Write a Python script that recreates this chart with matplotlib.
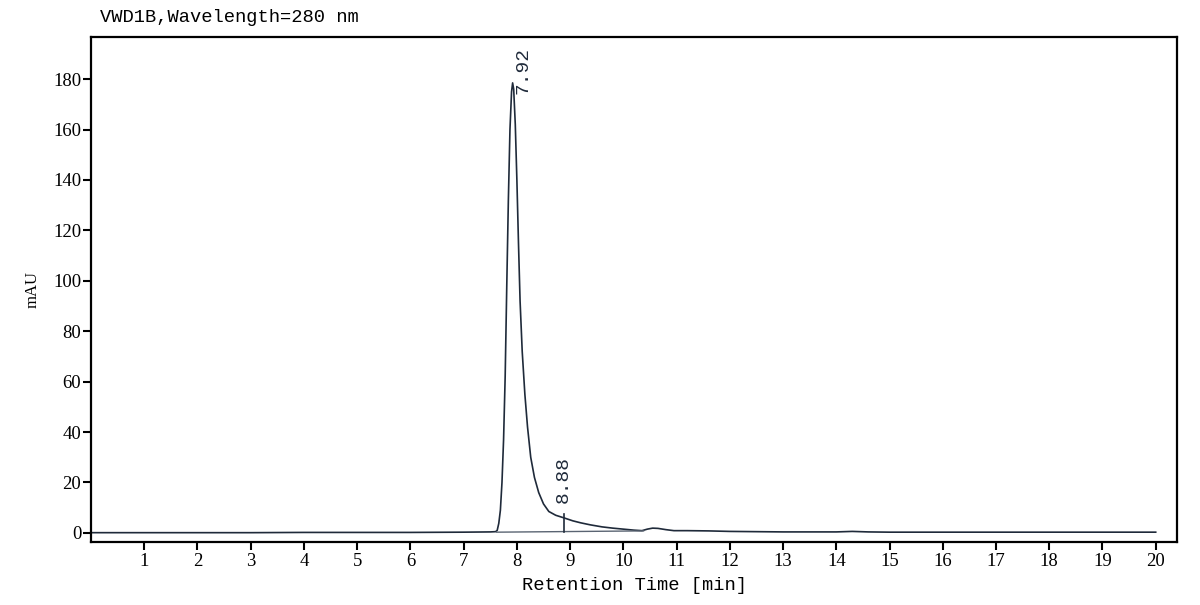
import matplotlib
matplotlib.use("Agg")
import matplotlib.pyplot as plt

# ---- data ----
time_min = [0, 1, 2, 3, 4, 5, 6, 7, 7.5, 7.6, 7.63, 7.66, 7.69, 7.72, 7.75, 7.78,
            7.81, 7.84, 7.87, 7.90, 7.92, 7.94, 7.97, 8.00, 8.03, 8.06, 8.10, 8.15,
            8.20, 8.26, 8.33, 8.41, 8.50, 8.60, 8.73, 8.88, 9.05, 9.2, 9.38, 9.6,
            9.8, 10.0, 10.2, 10.35, 10.45, 10.55, 10.65, 10.8, 10.95, 11.2, 11.6,
            12.0, 12.5, 13, 13.5, 14.0, 14.3, 14.6, 15, 16, 17, 18, 19, 20]
signal_mau = [0.1, 0.1, 0.1, 0.1, 0.2, 0.2, 0.2, 0.3, 0.4, 0.5, 1.0, 3.8, 9, 20, 37, 62,
              98, 132, 160, 175, 178.5, 176, 162, 140, 115, 92, 72, 55,
              42, 30, 22, 16, 11.5, 8.5, 7, 6, 4.8, 4.0, 3.2, 2.4,
              1.9, 1.5, 1.1, 0.9, 1.5, 1.9, 1.8, 1.3, 0.9, 0.9, 0.8,
              0.6, 0.5, 0.4, 0.4, 0.4, 0.6, 0.4, 0.3, 0.3, 0.3, 0.3, 0.3, 0.3]
baseline_t = [7.62, 10.38]
baseline_v = [0.3, 0.8]
peak_rt = [7.92, 8.88]
peak_labels = ["7.92", "8.88"]
x_ticks = list(range(1, 21))
y_ticks = list(range(0, 181, 20))

fig = plt.figure(figsize=(12, 6.05), dpi=100)
ax = fig.add_axes([91/1200, 1 - 542/605, (1177-91)/1200, (542-37)/605])

line_color = "#1f2a3a"
ax.plot(time_min, signal_mau, color=line_color, lw=1.2)
ax.plot(baseline_t, baseline_v, color="#5a6472", lw=1.0)
# marker for second peak
ax.plot([peak_rt[1], peak_rt[1]], [0.3, 7.5], color=line_color, lw=1.2)

ax.set_xlim(0, 20.4)
ax.set_ylim(-3.6, 196.7)
ax.set_xticks(x_ticks)
ax.set_yticks(y_ticks)

for s in ax.spines.values():
    s.set_linewidth(1.6)
    s.set_color("black")
ax.tick_params(direction="out", length=6, width=1.5, labelsize=13.5)
for lab in ax.get_xticklabels() + ax.get_yticklabels():
    lab.set_fontfamily("Liberation Serif")
ax.tick_params(axis="x", pad=2)
ax.tick_params(axis="y", pad=1)

mono = "Liberation Mono"
ax.set_xlabel("Retention Time [min]", fontsize=13.5, fontfamily=mono, labelpad=5)
fig.text(33/1200, 1 - 290/605, "mAU", rotation=90, fontsize=12,
         fontfamily="Liberation Serif", ha="center", va="center")
fig.text(100/1200, 1 - 18/605, "VWD1B,Wavelength=280 nm", fontsize=13.5,
         fontfamily=mono, ha="left", va="center")

# peak labels
ax.text(8.12, 174, peak_labels[0], rotation=90, ha="center", va="bottom",
        fontsize=14, fontfamily=mono, color=line_color)
ax.text(peak_rt[1], 12, peak_labels[1], rotation=90, ha="center", va="bottom",
        fontsize=14, fontfamily=mono, color=line_color)

fig.savefig("out.png", dpi=100)
